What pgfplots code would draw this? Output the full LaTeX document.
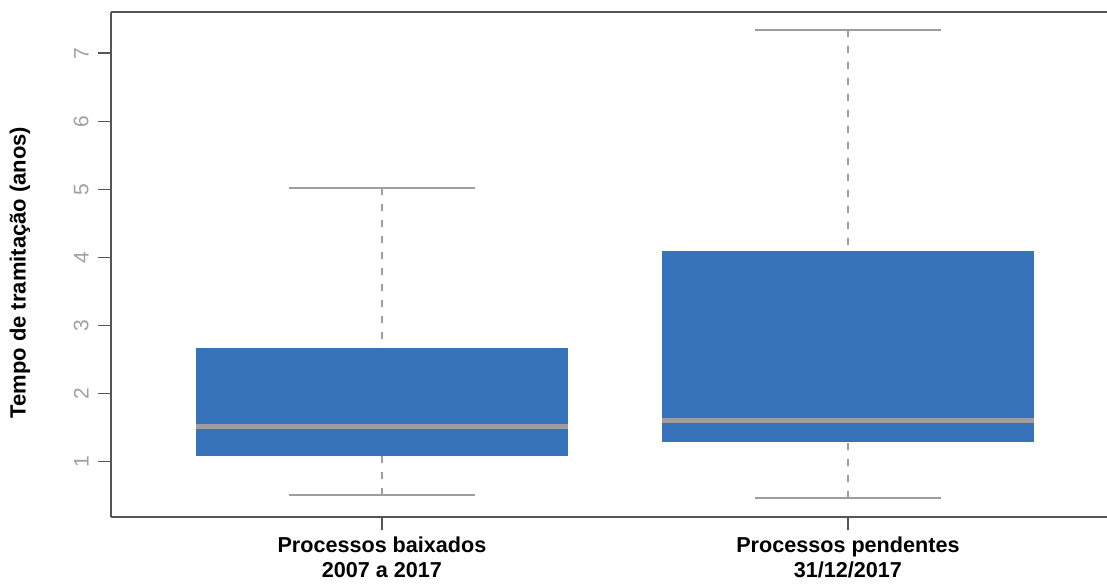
\documentclass[border=0pt]{standalone}
\usepackage{fontspec}
\setmainfont{Liberation Sans}
\usepackage{pgfplots}
\pgfplotsset{compat=1.18}
\definecolor{boxblue}{RGB}{55,115,186}
\definecolor{medgray}{RGB}{158,158,158}
\definecolor{axgray}{RGB}{85,85,85}
\definecolor{lblgray}{RGB}{160,160,160}
\begin{document}
\begin{tikzpicture}
\path[use as bounding box] (-55.5pt,-33pt) rectangle (498pt,258.5pt);
\begin{axis}[
  at={(0,0)}, anchor=south west,
  scale only axis, width=498pt, height=252.5pt,
  xmin=0.4185, xmax=2.556, ymin=0.188, ymax=7.605,
  separate axis lines,
  axis x line*=box, axis y line*=left,
  axis line style={axgray, line width=0.75pt, -},
  xtick={1,2},
  xticklabels={{Processos baixados\\2007 a 2017},{Processos pendentes\\31/12/2017}},
  xtick pos=lower, ytick pos=lower,
  ytick={1,2,3,4,5,6,7},
  tick align=outside, major tick length=6.5pt,
  tick style={axgray, line width=0.75pt},
  /pgf/number format/assume math mode=true,
  yticklabel style={rotate=90, anchor=south, inner sep=4.5pt, font=\fontsize{10.5}{11}\selectfont, text=lblgray},
  xticklabel style={align=center, font=\bfseries\fontsize{10.8}{12.5}\selectfont, text=black},
  ylabel={Tempo de tramitação (anos)},
  ylabel style={at={(axis description cs:-0.0914,0.484)}, anchor=center, font=\bfseries\fontsize{11}{13}\selectfont},
]
% boxes (Q1 to Q3)
\addplot[fill=boxblue, draw=none] coordinates {(0.6,1.08) (1.4,1.08) (1.4,2.67) (0.6,2.67)};
\addplot[fill=boxblue, draw=none] coordinates {(1.6,1.29) (2.4,1.29) (2.4,4.09) (1.6,4.09)};
% medians
\addplot[medgray, line width=2.5pt] coordinates {(0.6,1.51) (1.4,1.51)};
\addplot[medgray, line width=2.5pt] coordinates {(1.6,1.60) (2.4,1.60)};
% whiskers
\addplot[medgray, line width=1pt, dash pattern=on 3.5pt off 4.5pt] coordinates {(1,0.51) (1,1.08)};
\addplot[medgray, line width=1pt, dash pattern=on 3.5pt off 4.5pt] coordinates {(1,5.02) (1,2.67)};
\addplot[medgray, line width=1pt, dash pattern=on 3.5pt off 4.5pt] coordinates {(2,0.47) (2,1.29)};
\addplot[medgray, line width=1pt, dash pattern=on 3.5pt off 4.5pt] coordinates {(2,7.34) (2,4.09)};
% caps
\addplot[medgray, line width=1pt] coordinates {(0.8,0.51) (1.2,0.51)};
\addplot[medgray, line width=1pt] coordinates {(0.8,5.02) (1.2,5.02)};
\addplot[medgray, line width=1pt] coordinates {(1.8,0.47) (2.2,0.47)};
\addplot[medgray, line width=1pt] coordinates {(1.8,7.34) (2.2,7.34)};
\end{axis}
\end{tikzpicture}
\end{document}
